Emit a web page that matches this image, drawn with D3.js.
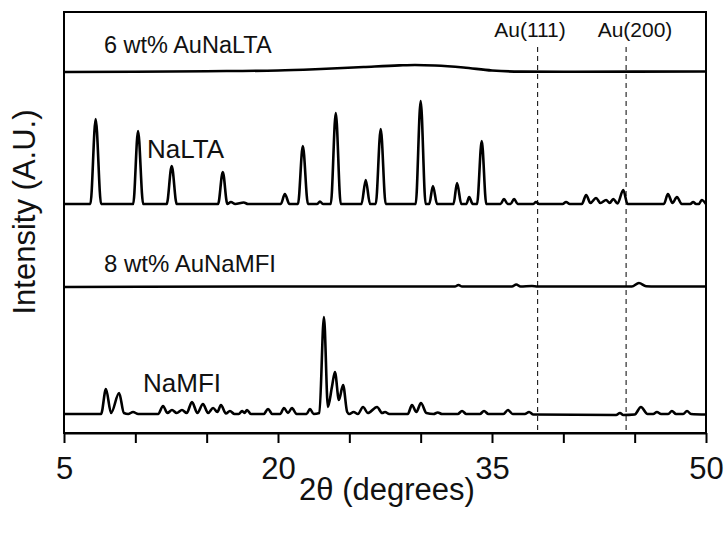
<!DOCTYPE html>
<html>
<head>
<meta charset="utf-8">
<script src="https://cdn.jsdelivr.net/npm/d3@7"></script>
<style>
  body { margin: 0; background: #fff; }
  text { font-family: "Liberation Sans", Arial, sans-serif; fill: #111; }
</style>
</head>
<body>
<svg id="chart"></svg>
<script>
// 2theta (deg), intensity above baseline (A.U.)
var naLTA = [
  [5,1],[6.85,1],[7.22,86],[7.6,1],
  [9.85,1],[10.19,74],[10.55,1],
  [12.2,1],[12.55,39],[12.9,1],
  [15.8,1],[16.13,33],[16.45,1],[16.7,3],[17.0,1],[17.6,2.5],[17.9,1],
  [20.2,1],[20.48,11],[20.8,1],
  [21.4,1],[21.74,59],[22.1,1],
  [22.75,1],[22.94,3.5],[23.15,1],
  [23.7,1],[24.05,92],[24.4,1],
  [25.85,1],[26.15,25],[26.45,1],
  [26.85,1],[27.2,76],[27.55,1],
  [29.65,1],[30.0,104],[30.35,1],
  [30.6,1],[30.86,19],[31.15,1],
  [32.3,1],[32.55,22],[32.85,1],
  [33.2,1],[33.4,8],[33.65,1],
  [33.95,1],[34.28,64],[34.6,1],
  [35.6,1],[35.84,6],[36.1,1],
  [36.3,1],[36.55,6],[36.8,1],
  [37.9,1],[38.08,3],[38.3,1],
  [39.95,1],[40.19,3],[40.45,1],
  [41.3,1],[41.6,10],[41.9,2],[42.29,7],[42.6,2],[43.0,5],[43.25,2],[43.5,6],[43.8,1.5],[44.2,15],[44.5,1],
  [47.05,1],[47.33,11],[47.65,2],[47.96,8],[48.3,1],
  [48.9,1],[49.1,3],[49.3,1],[49.5,1],[49.7,5],[50,1]
];
var auNaLTA = [
  [5,0],[10,0.3],[15,0.8],[20,1.5],[23,3],[26,5],[28.5,6.6],[29.6,7],[31,6.5],
  [33,4.5],[35,1.5],[37,0.4],[40,0.3],[45,0.4],[50,0.5]
];
var naMFI = [
  [5,1],[7.6,1],[7.94,26],[8.3,2],[8.86,22],[9.2,2],[9.5,1],[9.84,3],[10.2,1],
  [11.6,1],[11.94,9],[12.25,2],[12.57,5],[12.9,2],[13.27,5],[13.6,2],[13.97,13],[14.35,2],
  [14.74,11],[15.1,2],[15.45,7],[15.75,3],[16.0,10],[16.35,1.5],[16.63,4],[16.95,1],
  [17.25,1],[17.48,4],[17.65,2],[17.83,5],[18.1,1],
  [19.0,1],[19.3,6],[19.6,1],
  [20.15,1],[20.42,7],[20.7,2],[20.98,7],[21.3,1],
  [22.0,1],[22.24,6],[22.5,1],
  [22.9,2],[23.22,98],[23.5,8],[23.78,28],[23.99,43],[24.27,15],[24.56,30],[24.85,3],
  [25.0,1],[25.3,3],[25.6,1],[25.96,8],[26.3,2],[26.94,8],[27.3,2],[27.5,3],[27.8,1],
  [29.1,1],[29.39,10],[29.7,3],[30.02,12],[30.4,2],
  [30.9,1],[31.2,2.5],[31.5,1],
  [32.6,1],[32.9,4],[33.2,1],
  [34.15,1],[34.44,4],[34.75,1],
  [35.8,1],[36.12,5],[36.45,1],
  [37.3,1],[37.6,3],[37.9,0.5],
  [43.7,0],[43.97,2],[44.2,0],
  [45.0,0.5],[45.44,8],[45.9,1],
  [46.3,1],[46.56,3],[46.85,1],
  [47.35,1],[47.61,4],[47.9,1],
  [48.4,1],[48.67,4],[48.95,1],[50,0.5]
];
var auNaMFI = [
  [5,0],[20,0.5],[32.4,0.5],[32.65,2],[32.9,0.5],[36.4,0.5],[36.7,2.5],[37.0,0.5],
  [37.8,1],[38.2,0.5],[44.8,0.5],[45.3,4],[45.8,0.8],[46.5,0.5],[50,0.5]
];

var seriesNames = ["NaMFI", "8 wt% AuNaMFI", "NaLTA", "6 wt% AuNaLTA"];
var seriesOffsets = [18, 146, 228, 361];   // vertical stacking of the traces
var refLines = [{name: "Au(111)", theta: 38.2}, {name: "Au(200)", theta: 44.4}];
var xTicks = [5, 10, 15, 20, 25, 30, 35, 40, 45, 50];
var xTickLabels = [5, 20, 35, 50];

var svg = d3.select("#chart"),
    margin = {top: 12, right: 21, bottom: 100, left: 64},
    width = 727 - margin.left - margin.right,
    height = 533 - margin.top - margin.bottom;
svg.attr("width", 727).attr("height", 533);
var g = svg.append("g").attr("transform", "translate(" + margin.left + "," + margin.top + ")");

var x = d3.scaleLinear().domain([5, 50]).range([0, width]),
    y = d3.scaleLinear().domain([0, height]).range([height, 0]);

var traces = [naMFI, auNaMFI, naLTA, auNaLTA];

// reference lines for gold reflections
g.selectAll(".ref")
  .data(refLines)
  .enter().append("line")
    .attr("class", "ref")
    .attr("x1", function(d) { return x(d.theta); })
    .attr("x2", function(d) { return x(d.theta); })
    .attr("y1", 35)
    .attr("y2", height)
    .attr("stroke", "#000")
    .attr("stroke-width", 1)
    .attr("stroke-dasharray", "5,4");

var refLabelX = [530, 635];
g.selectAll(".refLabel")
  .data(refLines)
  .enter().append("text")
    .attr("class", "refLabel")
    .attr("x", function(d, i) { return refLabelX[i] - margin.left; })
    .attr("y", 25)
    .attr("text-anchor", "middle")
    .style("font-size", "21px")
    .text(function(d) { return d.name; });

var line = d3.line()
    .curve(d3.curveMonotoneX)
    .x(function(d) { return x(d[0]); });

g.selectAll(".trace")
  .data(traces)
  .enter().append("path")
    .attr("class", "trace")
    .attr("fill", "none")
    .attr("stroke", "#000")
    .attr("stroke-width", 2.6)
    .attr("stroke-linejoin", "round")
    .attr("d", function(d, i) {
      return line.y(function(p) { return y(p[1] + seriesOffsets[i]); })(d);
    });

// trace labels
var labelPos = [[10.54, 41], [7.8, 161], [10.82, 275], [7.8, 380]];
var labelSize = [26, 24, 26, 23.5];
g.selectAll(".label")
  .data(seriesNames)
  .enter().append("text")
    .attr("class", "label")
    .attr("x", function(d, i) { return x(labelPos[i][0]); })
    .attr("y", function(d, i) { return y(labelPos[i][1]); })
    .style("font-size", function(d, i) { return labelSize[i] + "px"; })
    .text(function(d) { return d; });

// frame
g.append("rect")
    .attr("width", width)
    .attr("height", height)
    .attr("fill", "none")
    .attr("stroke", "#000")
    .attr("stroke-width", 2);

var xAxis = d3.axisBottom(x)
    .tickValues(xTicks)
    .tickSize(10)
    .tickSizeOuter(0)
    .tickFormat(function(d) { return xTickLabels.indexOf(d) >= 0 ? d : ""; });

var xGroup = g.append("g")
    .attr("transform", "translate(0," + height + ")")
    .call(xAxis);
xGroup.select(".domain").attr("stroke-width", 2);
xGroup.selectAll(".tick line").attr("stroke-width", 2);
xGroup.selectAll(".tick text")
    .attr("y", 24)
    .attr("dy", "0.71em")
    .style("font-size", "31px")
    .style("font-family", "Liberation Sans, Arial, sans-serif")
    .attr("fill", "#111");

g.append("text")
    .attr("x", width / 2 + 2)
    .attr("y", height + 67)
    .attr("text-anchor", "middle")
    .style("font-size", "31px")
    .text("2θ (degrees)");

g.append("text")
    .attr("transform", "rotate(-90)")
    .attr("x", -200)
    .attr("y", -29)
    .attr("text-anchor", "middle")
    .style("font-size", "31px")
    .text("Intensity (A.U.)");
</script>
</body>
</html>
